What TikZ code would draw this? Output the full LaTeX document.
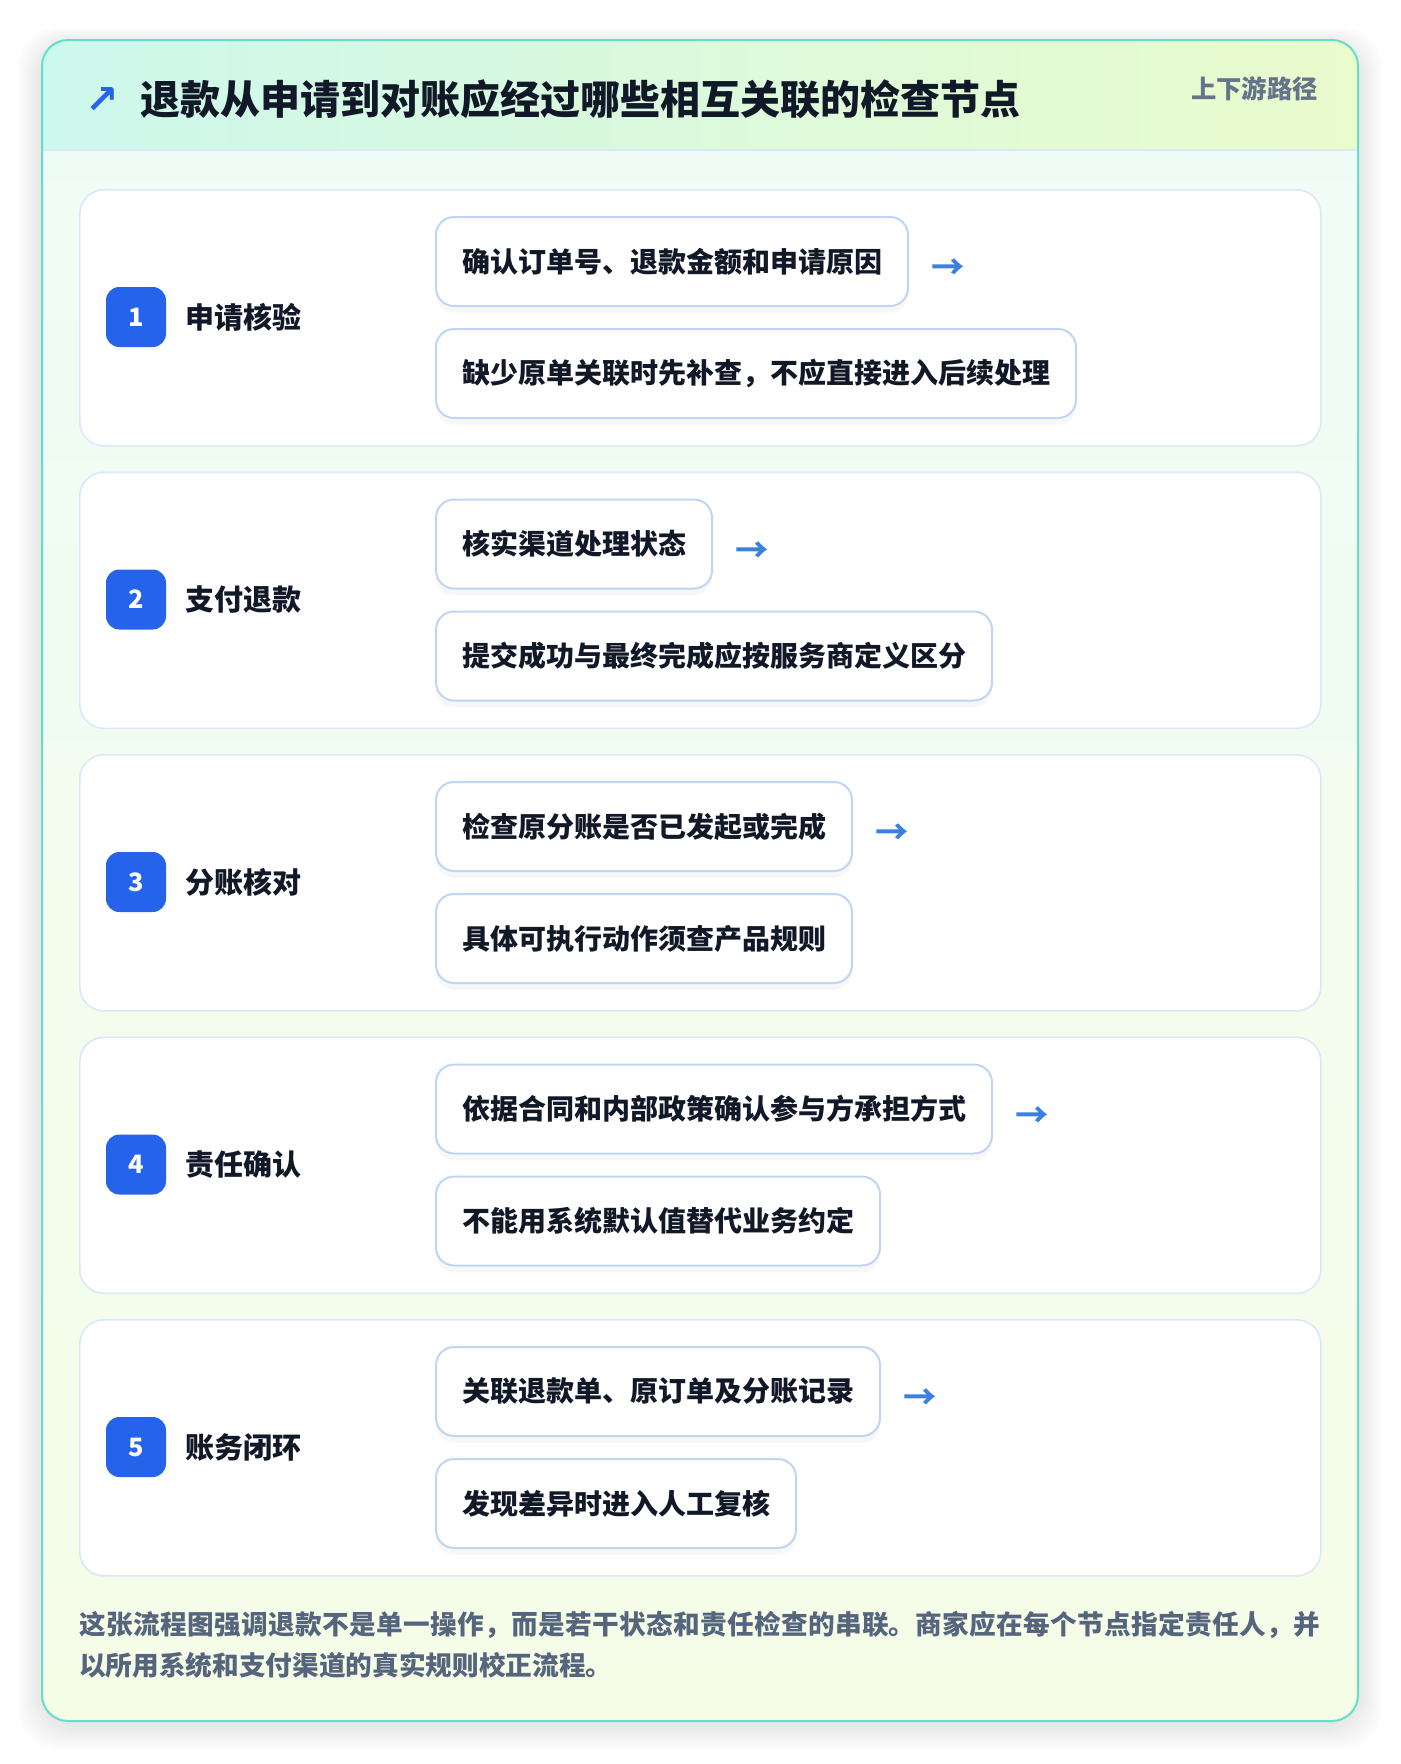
\documentclass[tikz,border=0pt]{standalone}
\usepackage{fontspec}
\setmainfont{Noto Sans CJK SC}
\newfontfamily\symbolfont{DejaVu Sans}
\usetikzlibrary{
  positioning,
  shadows
}
\XeTeXlinebreaklocale "zh"
\XeTeXlinebreakskip=0pt plus 1pt
\definecolor{rimteal}{HTML}{63E0CC}
\definecolor{headleft}{HTML}{CDF8EC}
\definecolor{headright}{HTML}{EAFBCC}
\definecolor{bodytop}{HTML}{EFFCF6}
\definecolor{bodybottom}{HTML}{F5FDE7}
\definecolor{cardrim}{HTML}{DBE8FA}
\definecolor{boxrim}{HTML}{BED6F6}
\definecolor{badgeblue}{HTML}{2563EB}
\definecolor{inkdark}{HTML}{111827}
\definecolor{inkgrey}{HTML}{64748B}
\definecolor{notegrey}{HTML}{56657E}
\definecolor{arrowblue}{HTML}{3B7FE0}
\begin{document}
\begin{tikzpicture}[
      x=0.75pt,y=-0.75pt,
      stepcard/.style={
         rectangle,
         rounded corners=18pt,
         minimum width=930.75pt,
         minimum height=192pt,
         inner sep=0pt,
         line width=1.2pt,
         draw=cardrim,
         fill=white
      },
      badge/.style={
         rectangle,
         rounded corners=10pt,
         minimum size=45pt,
         inner sep=0pt,
         fill=badgeblue,
         text=white,
         font=\bfseries\fontsize{19pt}{19pt}\selectfont
      },
      steplabel/.style={
         inner sep=0pt,
         text=inkdark,
         font=\bfseries\fontsize{21.75pt}{26pt}\selectfont
      },
      checkbox/.style={
         rectangle,
         rounded corners=13.5pt,
         minimum height=66.75pt,
         inner xsep=19.5pt,
         line width=1.5pt,
         draw=boxrim,
         fill=white,
         drop shadow={opacity=0.06,shadow xshift=0pt,shadow yshift=-5pt},
         text=inkdark,
         font=\bfseries\fontsize{21pt}{25pt}\selectfont
      },
      flowarrow/.style={
         inner sep=0pt,
         text=arrowblue,
         font=\bfseries\fontsize{25pt}{25pt}\selectfont
      }
    ]
    \useasboundingbox (0,0) rectangle (1400,1764);
    \fill[white] (0,0) rectangle (1400,1764);
    % soft shadow round the panel
    \foreach \s in {1,...,8}
       \fill[black,opacity=0.01,rounded corners=30pt]
          (42-3*\s,44-2*\s) rectangle (1358+3*\s,1725+3*\s);
    \fill[top color=bodytop,bottom color=bodybottom,rounded corners=19.5pt]
       (42,40) rectangle (1358,1721);
    \begin{scope}
       \clip[rounded corners=19.5pt] (42,40) rectangle (1358,1721);
       \fill[left color=headleft,right color=headright] (42,40) rectangle (1358,150);
    \end{scope}
    \draw[cardrim,line width=1.5pt] (42,150) -- (1358,150);
    \draw[rimteal,line width=1.5pt,rounded corners=19.5pt] (42,40) rectangle (1358,1721);

    \node (icon) [inner sep=0pt,text=badgeblue,font=\symbolfont\bfseries\fontsize{30pt}{30pt}\selectfont] at (102,100) {↗};
    \node (title) [anchor=west,inner sep=0pt,text=inkdark,font=\bfseries\fontsize{30pt}{36pt}\selectfont]
       at (140,99) {退款从申请到对账应经过哪些相互关联的检查节点};
    \node (tag) [anchor=east,inner sep=0pt,text=inkgrey,font=\bfseries\fontsize{19pt}{22pt}\selectfont]
       at (1318,89) {上下游路径};

    \foreach \n/\name/\chka/\chkb in {
       1/申请核验/确认订单号、退款金额和申请原因/缺少原单关联时先补查，不应直接进入后续处理,
       2/支付退款/核实渠道处理状态/提交成功与最终完成应按服务商定义区分,
       3/分账核对/检查原分账是否已发起或完成/具体可执行动作须查产品规则,
       4/责任确认/依据合同和内部政策确认参与方承担方式/不能用系统默认值替代业务约定,
       5/账务闭环/关联退款单、原订单及分账记录/发现差异时进入人工复核}
    {
       \pgfmathsetmacro\cardtop{189+282.5*(\n-1)}
       \node (card\n) [stepcard,anchor=north west] at (79,\cardtop) {};
       \node (badge\n) [badge] at (136,\cardtop+128) {\n};
       \node (label\n) [steplabel,right=14.25pt of badge\n] {\name};
       \node (chkA\n) [checkbox,anchor=north west] at (435,\cardtop+27) {\chka};
       \node (chkB\n) [checkbox,below=15.75pt of chkA\n.south west,anchor=north west] {\chkb};
       \node (arr\n) [flowarrow,right=17pt of chkA\n,yshift=-6pt] {→};
    }

    \node (note) [anchor=north west,inner sep=0pt,text width=930.75pt,align=justify,text=notegrey,
       font=\bfseries\fontsize{20pt}{30.75pt}\selectfont] at (79,1611)
       {这张流程图强调退款不是单一操作，而是若干状态和责任检查的串联。商家应在每个节点指定责任人，并\linebreak 以所用系统和支付渠道的真实规则校正流程。};
\end{tikzpicture}
\end{document}
